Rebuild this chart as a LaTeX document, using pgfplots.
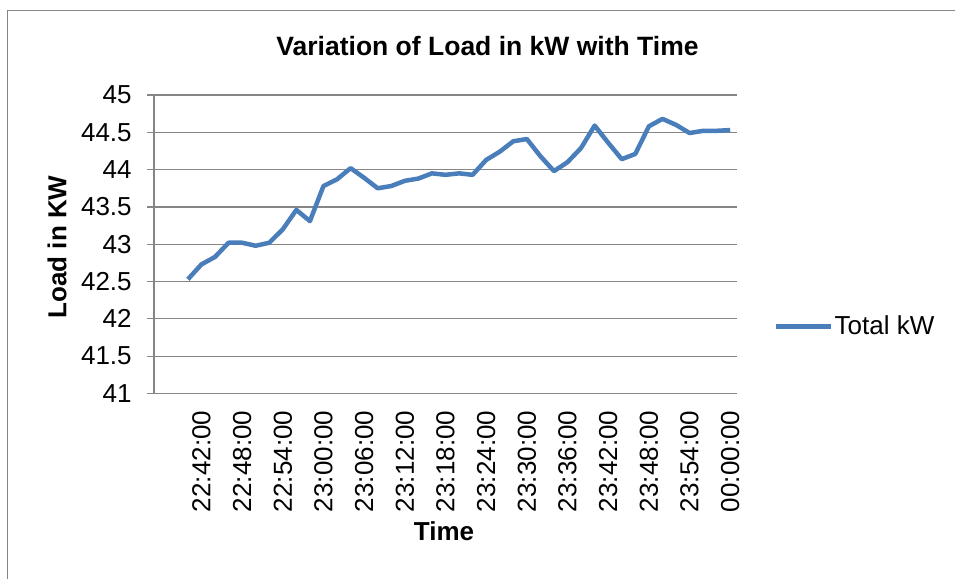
\documentclass[border=0pt]{standalone}
\usepackage{pgfplots}
\pgfplotsset{compat=1.18}
\usepackage{fontspec}
\setmainfont{Liberation Sans}

\definecolor{seriesblue}{HTML}{4A7EBB}
\definecolor{gridgray}{HTML}{868686}

\pgfplotstableread{
idx load
0  42.53
1  42.73
2  42.83
3  43.02
4  43.02
5  42.98
6  43.02
7  43.20
8  43.46
9  43.31
10 43.78
11 43.87
12 44.02
13 43.89
14 43.75
15 43.78
16 43.85
17 43.88
18 43.95
19 43.93
20 43.95
21 43.93
22 44.13
23 44.24
24 44.38
25 44.41
26 44.18
27 43.98
28 44.10
29 44.29
30 44.59
31 44.36
32 44.14
33 44.21
34 44.58
35 44.68
36 44.60
37 44.49
38 44.52
39 44.52
40 44.53
}\loaddata

\begin{document}
\begin{tikzpicture}[font=\fontsize{10.4}{12}\selectfont]
% page size: 955 x 579 px at 0.4pt per px
\useasboundingbox (0,0) rectangle (382pt,231.6pt);
\draw[gridgray, line width=0.5pt] (3pt,0) -- (3pt,227.4pt) -- (382pt,227.4pt);

\begin{axis}[
    at={(61.6pt,74.2pt)}, anchor=south west,
    scale only axis,
    width=233.2pt, height=119.4pt,
    xmin=-2.5, xmax=40.5,
    ymin=41, ymax=45,
    ytick={41,41.5,...,45},
    xtick={1,4,...,40},
    xticklabels={22:42:00,22:48:00,22:54:00,23:00:00,23:06:00,23:12:00,23:18:00,
                 23:24:00,23:30:00,23:36:00,23:42:00,23:48:00,23:54:00,00:00:00},
    x tick label style={rotate=90, anchor=east},
    xticklabel shift=0.6pt,
    yticklabel shift=2.6pt,
    y tick label style={/pgf/number format/fixed, /pgf/number format/precision=1},
    /pgf/number format/assume math mode=true,
    axis lines*=left,
    axis line style={gridgray, line width=0.5pt},
    ymajorgrids,
    grid style={gridgray, line width=0.5pt},
    tick align=outside,
    major tick length=2.8pt,
    xtick style={draw=none},
    ytick style={gridgray, line width=0.5pt},
    legend style={draw=none, fill=none, at={(1.062,0.224)}, anchor=west,
                  inner sep=0pt, nodes={inner sep=0.6pt},
                  font=\fontsize{10.4}{12}\selectfont},
    legend image code/.code={\draw[#1] (0pt,0pt) -- (22pt,0pt);},
    clip=false,
]
\addplot[seriesblue, line width=1.8pt, line join=round] table[x=idx, y=load] {\loaddata};
\addlegendentry{Total kW}
\end{axis}

\node[font=\fontsize{10.6}{12}\selectfont\bfseries] at (195pt,213.2pt) {Variation of Load in kW with Time};
\node[font=\fontsize{10.4}{12}\selectfont\bfseries, rotate=90] at (22.8pt,132.8pt) {Load in KW};
\node[font=\fontsize{10.4}{12}\selectfont\bfseries] at (177.6pt,19.0pt) {Time};
\end{tikzpicture}
\end{document}
